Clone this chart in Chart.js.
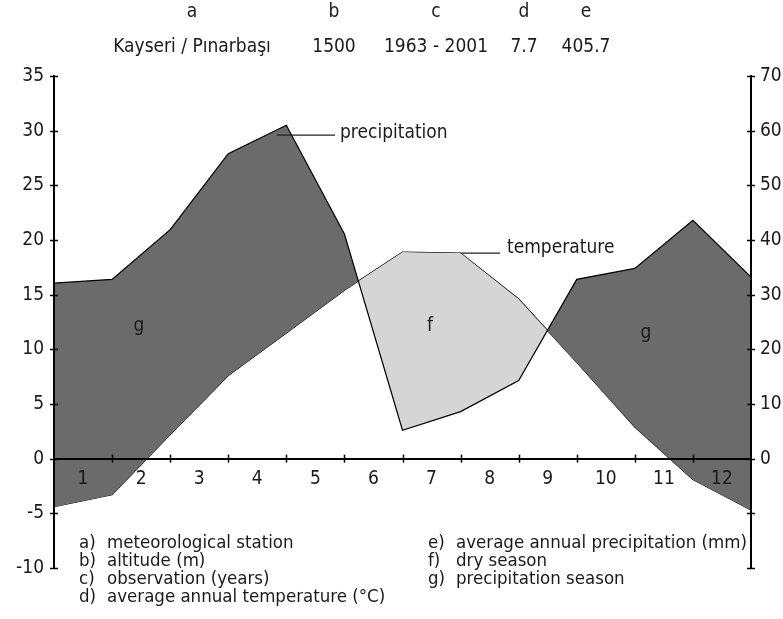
<!DOCTYPE html>
<html>
<head>
<meta charset="utf-8">
<script src="https://cdn.jsdelivr.net/npm/chart.js@4/dist/chart.umd.min.js"></script>
<style>
html,body{margin:0;padding:0;background:#fff;}
canvas{display:block;}
</style>
</head>
<body>
<canvas id="c" width="783" height="619"></canvas>
<script>
// ---- data ----
const months = ['1','2','3','4','5','6','7','8','9','10','11','12'];
// values at the 13 month boundaries (left edge of month 1 ... right edge of month 12)
const temperature   = [-4.4, -3.3, 2.2, 7.6, 11.5, 15.4, 18.9, 18.8, 14.6, 8.8, 2.9, -1.9, -4.7];
const precipitation = [32.1, 32.8, 41.9, 55.8, 61.0, 41.1, 5.2, 8.6, 14.3, 32.8, 34.8, 43.6, 33.2];
const tempTicks = [-10, -5, 0, 5, 10, 15, 20, 25, 30, 35];
const precTicks = [-20, -10, 0, 10, 20, 30, 40, 50, 60, 70];
const headerKeys = ['a', 'b', 'c', 'd', 'e'];
const stationValues = ['Kayseri / Pınarbaşı', '1500', '1963 - 2001', '7.7', '405.7'];
const legendLeft = [['a)', 'meteorological station'], ['b)', 'altitude (m)'], ['c)', 'observation (years)'], ['d)', 'average annual temperature (°C)']];
const legendRight = [['e)', 'average annual precipitation (mm)'], ['f)', 'dry season'], ['g)', 'precipitation season']];

const FONT = '"DejaVu Sans Condensed", "DejaVu Sans", sans-serif';
const FS = 19;
const LFS = 18.5;
const TXT = '#1a1a1a';
const DARK = 'rgb(107,107,107)';
const LIGHT = 'rgb(213,213,213)';

const decor = {
  id: 'decor',
  afterDraw(chart) {
    const ctx = chart.ctx;
    const t = chart.scales.t, p = chart.scales.p, xd = chart.scales.xd;
    const a = chart.chartArea;
    ctx.save();
    ctx.strokeStyle = '#000';
    ctx.lineWidth = 1.5;
    // crossing tick marks
    tempTicks.forEach(v => {
      const y = Math.round(t.getPixelForValue(v)) + 0.5;
      ctx.beginPath(); ctx.moveTo(a.left - 4, y); ctx.lineTo(a.left + 4, y); ctx.stroke();
    });
    precTicks.forEach(v => {
      const y = Math.round(p.getPixelForValue(v)) + 0.5;
      ctx.beginPath(); ctx.moveTo(a.right - 4, y); ctx.lineTo(a.right + 4, y); ctx.stroke();
    });
    const y0 = t.getPixelForValue(0);
    for (let k = 1; k < months.length; k++) {
      const x = Math.round(xd.getPixelForValue(k)) + 0.5;
      ctx.beginPath(); ctx.moveTo(x, y0 - 4); ctx.lineTo(x, y0 + 4); ctx.stroke();
    }
    // leader lines
    ctx.lineWidth = 1.2;
    ctx.strokeStyle = '#222';
    const py = p.getPixelForValue(59.2);
    ctx.beginPath(); ctx.moveTo(xd.getPixelForValue(3.84), py); ctx.lineTo(335, py); ctx.stroke();
    const tx = xd.getPixelForValue(7), ty = t.getPixelForValue(temperature[7]);
    ctx.beginPath(); ctx.moveTo(tx, ty); ctx.lineTo(500, ty); ctx.stroke();

    ctx.fillStyle = TXT;
    ctx.font = FS + 'px ' + FONT;
    ctx.textBaseline = 'middle';
    ctx.textAlign = 'left';
    ctx.fillText('precipitation', 340, py - 2);
    ctx.fillText('temperature', 507, ty - 5);

    // header
    const centers = [192, 334, 436, 524, 586];
    ctx.textAlign = 'center';
    headerKeys.forEach((k, i) => ctx.fillText(k, centers[i], 12));
    stationValues.forEach((s, i) => ctx.fillText(s, centers[i], 47));

    // region letters
    ctx.fillText('g', 139, 326);
    ctx.fillText('f', 430, 326);
    ctx.fillText('g', 646, 333);

    // legend
    ctx.font = LFS + 'px ' + FONT;
    ctx.textAlign = 'left';
    legendLeft.forEach((r, i) => { ctx.fillText(r[0], 79, 543 + i * 18); ctx.fillText(r[1], 107, 543 + i * 18); });
    legendRight.forEach((r, i) => { ctx.fillText(r[0], 428, 543 + i * 18); ctx.fillText(r[1], 456, 543 + i * 18); });
    ctx.restore();
  }
};

Chart.defaults.font.family = FONT;
Chart.defaults.font.size = FS;
Chart.defaults.color = TXT;

new Chart(document.getElementById('c'), {
  type: 'line',
  data: {
    labels: months,
    datasets: [
      {
        label: 'precipitation',
        data: precipitation.map((v, i) => ({ x: i, y: v })),
        xAxisID: 'xd', yAxisID: 'p',
        borderColor: '#000', borderWidth: 1.2, pointRadius: 0, tension: 0,
        fill: { target: 1, above: DARK, below: LIGHT }
      },
      {
        label: 'temperature',
        data: temperature.map((v, i) => ({ x: i, y: v })),
        xAxisID: 'xd', yAxisID: 't',
        borderColor: '#000', borderWidth: 1.2, pointRadius: 0, tension: 0,
        fill: false
      }
    ]
  },
  options: {
    responsive: false,
    animation: false,
    devicePixelRatio: 1,
    layout: { padding: { top: 76, bottom: 51, left: 0, right: 0 } },
    plugins: { legend: { display: false }, tooltip: { enabled: false } },
    scales: {
      x: {
        type: 'category', labels: months, offset: true, position: { t: 0 },
        grid: { display: false, drawTicks: false },
        border: { display: true, color: '#000', width: 2, z: 1 },
        ticks: { padding: 9, maxRotation: 0, autoSkip: false, z: 1 },
        afterFit(s) { s.height = 0; }
      },
      xd: { type: 'linear', min: 0, max: 12, display: false },
      t: {
        type: 'linear', position: 'left', min: -10, max: 35,
        afterBuildTicks(s) { s.ticks = tempTicks.map(v => ({ value: v })); },
        ticks: { padding: 10, z: 1 },
        grid: { display: false, drawTicks: false },
        border: { display: true, color: '#000', width: 2, z: 1 },
        afterFit(s) { s.width = 54; }
      },
      p: {
        type: 'linear', position: 'right', min: -20, max: 70,
        afterBuildTicks(s) { s.ticks = precTicks.map(v => ({ value: v })); },
        ticks: { padding: 9, z: 1, callback: v => (v < 0 ? '' : v) },
        grid: { display: false, drawTicks: false },
        border: { display: true, color: '#000', width: 2, z: 1 },
        afterFit(s) { s.width = 32; }
      }
    }
  },
  plugins: [decor]
});
</script>
</body>
</html>
